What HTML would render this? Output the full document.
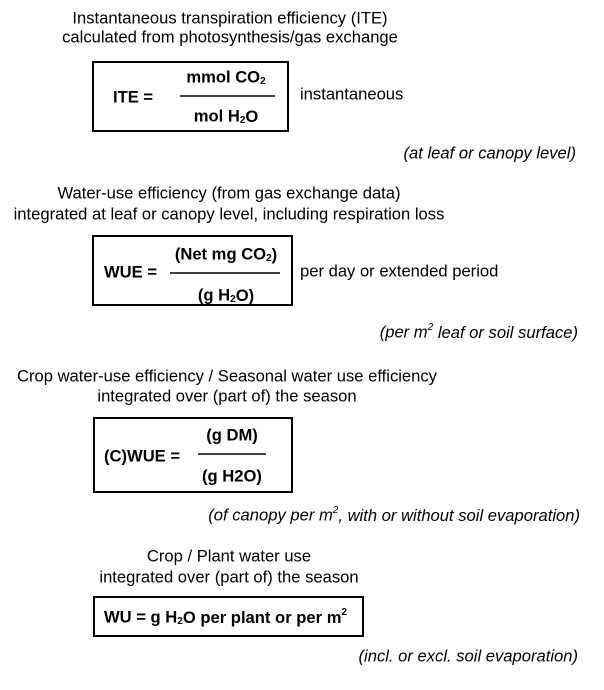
<!DOCTYPE html>
<html><head><meta charset="utf-8"><style>
html,body{margin:0;padding:0;background:#fff;}
svg{display:block;}
text{font-family:"Liberation Sans",Arial,sans-serif;font-size:16.6px;fill:#000;}
.b{font-weight:bold;}
.i{font-style:italic;}
</style></head><body>
<svg width="604" height="690" viewBox="0 0 604 690" xmlns="http://www.w3.org/2000/svg">
<g dominant-baseline="central">
<text x="230" y="18" text-anchor="middle">Instantaneous transpiration efficiency (ITE)</text>
<text x="230" y="37" text-anchor="middle">calculated from photosynthesis/gas exchange</text>
<rect x="93" y="62" width="195" height="69" fill="none" stroke="#000" stroke-width="2"/>
<text class="b" x="113" y="97">ITE =</text>
<text class="b" x="226" y="77" text-anchor="middle">mmol CO<tspan font-size="10" dy="4">2</tspan></text>
<line x1="180" y1="96" x2="275" y2="96" stroke="#000" stroke-width="1.5"/>
<text class="b" x="226" y="116" text-anchor="middle">mol H<tspan font-size="10" dy="4">2</tspan><tspan dy="-4">O</tspan></text>
<text x="300" y="94">instantaneous</text>
<text class="i" x="576" y="153" text-anchor="end">(at leaf or canopy level)</text>

<text x="229" y="193" text-anchor="middle">Water-use efficiency (from gas exchange data)</text>
<text x="229" y="214" text-anchor="middle">integrated at leaf or canopy level, including respiration loss</text>
<rect x="93" y="236" width="199" height="69" fill="none" stroke="#000" stroke-width="2"/>
<text class="b" x="104" y="272">WUE =</text>
<text class="b" x="226" y="254" text-anchor="middle">(Net mg CO<tspan font-size="10" dy="4">2</tspan><tspan dy="-4">)</tspan></text>
<line x1="170" y1="273" x2="280" y2="273" stroke="#000" stroke-width="1.5"/>
<text class="b" x="226" y="295" text-anchor="middle">(g H<tspan font-size="10" dy="4">2</tspan><tspan dy="-4">O)</tspan></text>
<text x="300" y="271">per day or extended period</text>
<text class="i" x="578" y="332" text-anchor="end">(per m<tspan font-size="10" dy="-5">2</tspan><tspan dy="5"> leaf or soil surface)</tspan></text>

<text x="227" y="376" text-anchor="middle">Crop water-use efficiency / Seasonal water use efficiency</text>
<text x="227" y="396" text-anchor="middle">integrated over (part of) the season</text>
<rect x="94" y="418" width="198" height="74" fill="none" stroke="#000" stroke-width="2"/>
<text class="b" x="104" y="456">(C)WUE =</text>
<text class="b" x="232" y="435" text-anchor="middle">(g DM)</text>
<line x1="198" y1="454" x2="266" y2="454" stroke="#000" stroke-width="1.5"/>
<text class="b" x="232" y="476" text-anchor="middle">(g H2O)</text>
<text class="i" x="580" y="515" text-anchor="end">(of canopy per m<tspan font-size="10" dy="-5">2</tspan><tspan dy="5">, with or without soil evaporation)</tspan></text>

<text x="229" y="556" text-anchor="middle">Crop / Plant water use</text>
<text x="229" y="577" text-anchor="middle">integrated over (part of) the season</text>
<rect x="94" y="597" width="269" height="39" fill="none" stroke="#000" stroke-width="2"/>
<text class="b" x="104" y="617">WU = g H<tspan font-size="10" dy="4">2</tspan><tspan dy="-4">O per plant or per m</tspan><tspan font-size="10" dy="-5">2</tspan></text>
<text class="i" x="578" y="656" text-anchor="end">(incl. or excl. soil evaporation)</text>
</g>
</svg>
</body></html>
